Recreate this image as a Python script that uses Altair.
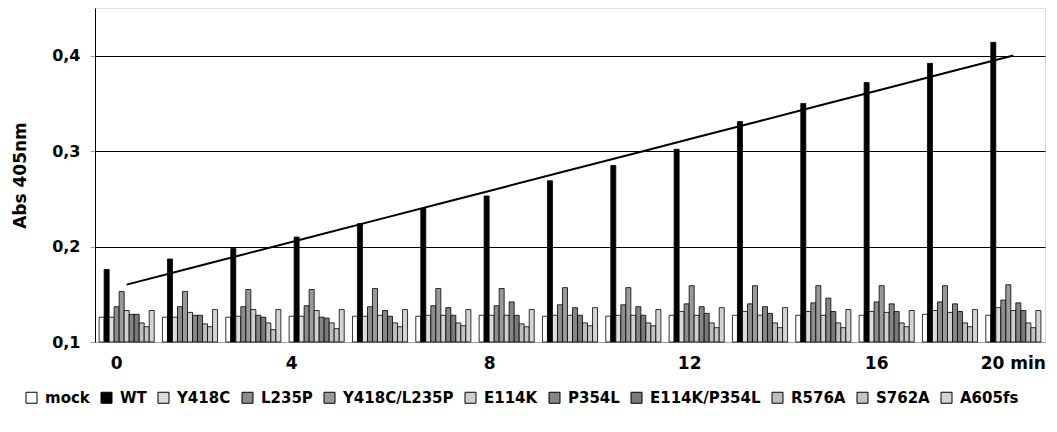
import altair as alt
import numpy as np
import pandas as pd

# group index (15 time points), series names and values
groups = list(range(15))
series = ["mock", "WT", "Y418C", "L235P", "Y418C/L235P", "E114K", "P354L",
          "E114K/P354L", "R576A", "S762A", "A605fs"]

mock = [0.126, 0.126, 0.126, 0.127, 0.127, 0.127, 0.128, 0.127, 0.127, 0.128, 0.128, 0.128, 0.128, 0.129, 0.128]
wt = [0.176, 0.187, 0.198, 0.210, 0.224, 0.240, 0.253, 0.269, 0.285, 0.302, 0.331, 0.350, 0.372, 0.392, 0.414]
y418c = [0.126, 0.126, 0.127, 0.127, 0.127, 0.128, 0.128, 0.128, 0.128, 0.132, 0.132, 0.132, 0.132, 0.133, 0.136]
l235p = [0.137, 0.137, 0.137, 0.138, 0.137, 0.138, 0.138, 0.139, 0.139, 0.140, 0.140, 0.141, 0.142, 0.142, 0.144]
y418c_l235p = [0.153, 0.153, 0.155, 0.155, 0.156, 0.156, 0.156, 0.157, 0.157, 0.159, 0.159, 0.159, 0.159, 0.159, 0.160]
e114k = [0.133, 0.131, 0.134, 0.133, 0.128, 0.128, 0.128, 0.128, 0.128, 0.128, 0.128, 0.128, 0.131, 0.131, 0.133]
p354l = [0.129, 0.128, 0.128, 0.126, 0.133, 0.136, 0.142, 0.136, 0.137, 0.137, 0.137, 0.146, 0.140, 0.140, 0.141]
e114k_p354l = [0.129, 0.128, 0.126, 0.125, 0.127, 0.128, 0.128, 0.128, 0.128, 0.130, 0.130, 0.132, 0.132, 0.132, 0.133]
r576a = [0.120, 0.119, 0.120, 0.120, 0.120, 0.120, 0.119, 0.120, 0.120, 0.120, 0.120, 0.120, 0.120, 0.120, 0.120]
s762a = [0.116, 0.116, 0.113, 0.114, 0.116, 0.117, 0.116, 0.117, 0.117, 0.115, 0.115, 0.115, 0.116, 0.116, 0.115]
a605fs = [0.133, 0.134, 0.134, 0.134, 0.134, 0.134, 0.134, 0.136, 0.134, 0.136, 0.136, 0.134, 0.133, 0.134, 0.133]

values = [mock, wt, y418c, l235p, y418c_l235p, e114k, p354l, e114k_p354l, r576a, s762a, a605fs]

# x tick labels shown under some groups
tick_labels = {0: "0", 3: "4", 6: "8", 9: "12", 12: "16", 14: "20 min"}

# gray tones standing in for the black/white fill patterns
fills = ["#ffffff", "#000000", "#dcdcdc", "#8c8c8c", "#9a9a9a", "#cfcfcf",
         "#858585", "#7a7a7a", "#bdbdbd", "#c4c4c4", "#d4d4d4"]

rows = []
for s, vals in zip(series, values):
    for g, v in zip(groups, vals):
        rows.append({"g": g, "series": s, "value": v})
df = pd.DataFrame(rows)

# linear trend line of WT
slope, intercept = np.polyfit(groups, wt, 1)
trend = pd.DataFrame({"g": groups, "fit": [intercept + slope * g for g in groups]})

label_expr = " : ".join(
    f"datum.value == {k} ? '{v}'" for k, v in tick_labels.items()
) + " : ''"

FONT = "DejaVu Sans"

x_enc = alt.X(
    "g:O",
    scale=alt.Scale(paddingInner=0.13, paddingOuter=0.065),
    axis=alt.Axis(
        title=None,
        labelExpr=label_expr,
        labelAngle=0,
        ticks=False,
        domainColor="#a0a0a0",
        labelFont=FONT,
        labelFontWeight="bold",
        labelFontSize=17,
        labelColor="black",
        labelPadding=13,
        labelOverlap=False,
        labelOffset={
            "condition": [
                {"test": "datum.value == 3", "value": -25},
                {"test": "datum.value == 6", "value": -17},
                {"test": "datum.value == 9", "value": -7},
                {"test": "datum.value == 14", "value": 0},
            ],
            "value": -10,
        },
    ),
)

y_scale = alt.Scale(domain=[0.1, 0.45], zero=False)

bars = alt.Chart(df).mark_bar(stroke="black", strokeWidth=0.8).encode(
    x=x_enc,
    xOffset=alt.XOffset("series:N", scale=alt.Scale(domain=series, paddingInner=0, paddingOuter=0)),
    y=alt.Y(
        "value:Q",
        scale=y_scale,
        axis=alt.Axis(
            title="Abs 405nm",
            values=[0.1, 0.2, 0.3, 0.4],
            labelExpr="replace(format(datum.value, '.1f'), '.', ',')",
            grid=True,
            gridColor={"condition": {"test": "datum.value < 0.15", "value": "#a0a0a0"}, "value": "black"},
            gridWidth=1,
            tickSize=5,
            tickColor="#a0a0a0",
            domainColor="black",
            labelFont=FONT,
            labelFontWeight="bold",
            labelFontSize=16,
            labelColor="black",
            labelPadding=10,
            titleFont=FONT,
            titleFontWeight="bold",
            titleFontSize=17,
            titleColor="black",
            titlePadding=22,
        ),
    ),
    y2=alt.datum(0.1),
    fill=alt.Fill(
        "series:N",
        scale=alt.Scale(domain=series, range=fills),
        legend=alt.Legend(
            title=None,
            orient="none",
            legendX=-71,
            legendY=382,
            direction="horizontal",
            columns=11,
            symbolType="square",
            symbolSize=121,
            symbolStrokeColor="black",
            symbolStrokeWidth=1,
            symbolOpacity=1,
            labelFont=FONT,
            labelFontWeight="bold",
            labelFontSize=15,
            labelColor="black",
            labelOffset=6,
            labelLimit=0,
            columnPadding=9,
        ),
    ),
)

line = alt.Chart(trend).mark_line(color="black", strokeWidth=2).encode(
    x=alt.X("g:O"),
    y=alt.Y("fit:Q", scale=y_scale),
)

chart = alt.layer(bars, line).properties(
    width=950,
    height=334,
    autosize="none",
    padding={"left": 87, "top": 0, "right": 4, "bottom": 74},
).configure_view(stroke="#a0a0a0", strokeWidth=1).configure(background="white")

chart.save("out.html", embed_options={"renderer": "svg", "actions": False})
